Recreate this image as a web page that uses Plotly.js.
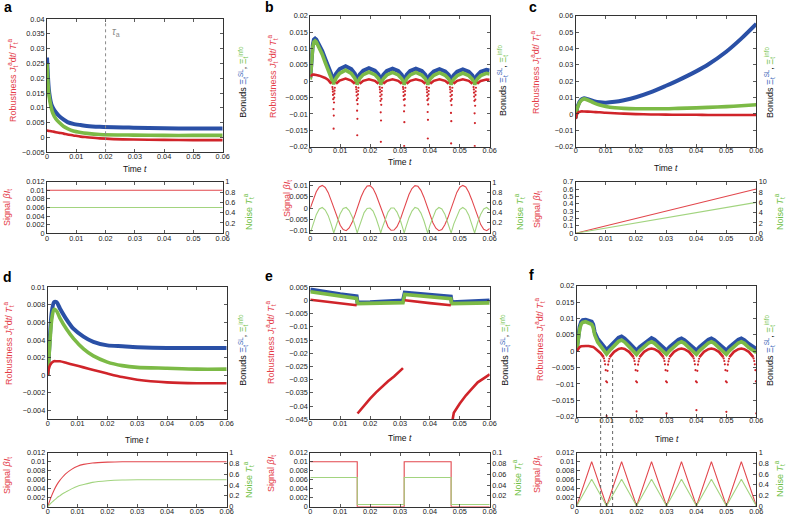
<!DOCTYPE html>
<html><head><meta charset="utf-8">
<script src="https://cdn.plot.ly/plotly-3.0.1.min.js"></script>
<style>html,body{margin:0;padding:0;background:#fff}#chart{width:786px;height:520px}</style>
</head><body><div id="chart"></div>
<script>
// ---------------- DATA ----------------
// Panel a
const tA = [0, 0.0003, 0.0006, 0.001, 0.0015, 0.002, 0.003, 0.004, 0.0057, 0.007, 0.009, 0.0115, 0.0136, 0.018, 0.0295, 0.04, 0.05, 0.06];
const blueA = [0.027, 0.021, 0.0165, 0.0135, 0.0112, 0.0101, 0.0085, 0.0074, 0.006, 0.0052, 0.0046, 0.0042, 0.0039, 0.0036, 0.0033, 0.0031, 0.003, 0.003];
const greenA = [0.025, 0.019, 0.015, 0.0122, 0.0098, 0.0082, 0.0063, 0.0052, 0.0037, 0.003, 0.0022, 0.0017, 0.0014, 0.001, 0.0008, 0.0007, 0.0007, 0.0007];
const redA = [0.0023, 0.0023, 0.0022, 0.0022, 0.0021, 0.002, 0.0018, 0.0016, 0.0013, 0.001, 0.0007, 0.0003, 0.0001, -0.0003, -0.0007, -0.0008, -0.0009, -0.0009];
const tauA = 0.02;
const tSigA = [0, 0.06];
const sigA = [0.01, 0.01];
const noiseA = [0.5, 0.5];

// Panel b
const tB = [0, 0.0004, 0.0008, 0.0012, 0.0016, 0.002, 0.003, 0.004, 0.005, 0.006, 0.007, 0.0078,
  0.0086, 0.0098, 0.0118, 0.0137, 0.0149, 0.0157,
  0.0165, 0.0177, 0.0196, 0.0216, 0.0228, 0.0236,
  0.0244, 0.0256, 0.0275, 0.0294, 0.0306, 0.0314,
  0.0322, 0.0334, 0.0353, 0.0373, 0.0385, 0.0393,
  0.0401, 0.0413, 0.0432, 0.0451, 0.0463, 0.0471,
  0.0479, 0.0491, 0.051, 0.053, 0.0542, 0.055,
  0.0558, 0.057, 0.0589, 0.06];
const blueB = [0.001, 0.0075, 0.011, 0.0127, 0.013, 0.0127, 0.0112, 0.0092, 0.0068, 0.0043, 0.002, 0.0004,
  0.0023, 0.0037, 0.0046, 0.0037, 0.0023, 0.0003,
  0.002, 0.0032, 0.004, 0.0032, 0.002, 0.0003,
  0.0019, 0.0031, 0.0038, 0.0031, 0.0019, 0.0003,
  0.0019, 0.0031, 0.0038, 0.0031, 0.0019, 0.0003,
  0.0019, 0.003, 0.0037, 0.003, 0.0019, 0.0003,
  0.0018, 0.0029, 0.0036, 0.0029, 0.0018, 0.0003,
  0.0018, 0.0029, 0.0035, 0.0033];
const greenB = [0.0005, 0.0068, 0.0103, 0.012, 0.0123, 0.012, 0.0103, 0.0082, 0.0057, 0.0032, 0.0008, -0.0009,
  0.0009, 0.0024, 0.0034, 0.0024, 0.0009, -0.001,
  0.0008, 0.002, 0.0028, 0.002, 0.0008, -0.001,
  0.0007, 0.0019, 0.0027, 0.0019, 0.0007, -0.001,
  0.0007, 0.0019, 0.0027, 0.0019, 0.0007, -0.001,
  0.0007, 0.0018, 0.0026, 0.0018, 0.0007, -0.001,
  0.0006, 0.0017, 0.0025, 0.0017, 0.0006, -0.001,
  0.0006, 0.0017, 0.0024, 0.0022];
const redB = [0.0015, 0.0018, 0.002, 0.002, 0.002, 0.0019, 0.0017, 0.0014, 0.001, 0.0004, -0.0008, null,
  -0.0008, 0.0002, 0.0008, 0.0002, -0.0008, null,
  -0.0008, 0.0001, 0.0006, 0.0001, -0.0008, null,
  -0.0008, 0.0001, 0.0006, 0.0001, -0.0008, null,
  -0.0008, 0.0001, 0.0006, 0.0001, -0.0008, null,
  -0.0008, 0.0001, 0.0006, 0.0001, -0.0008, null,
  -0.0008, 0.0001, 0.0006, 0.0001, -0.0008, null,
  -0.0008, 0.0001, 0.0005, 0.0004];
const dotTB = [0.0074, 0.0075, 0.00755, 0.0076, 0.00767, 0.00775, 0.0078, 0.00785, 0.00793, 0.008, 0.00805, 0.0081, 0.0082,
  0.0153, 0.0154, 0.01545, 0.0155, 0.01557, 0.01565, 0.0157, 0.01575, 0.01583, 0.0159, 0.01595, 0.016, 0.0161,
  0.0232, 0.0233, 0.02335, 0.0234, 0.02347, 0.02355, 0.0236, 0.02365, 0.02373, 0.0238, 0.02385, 0.0239, 0.024,
  0.031, 0.0311, 0.03115, 0.0312, 0.03127, 0.03135, 0.0314, 0.03145, 0.03153, 0.0316, 0.03165, 0.0317, 0.0318,
  0.0389, 0.039, 0.03905, 0.0391, 0.03917, 0.03925, 0.0393, 0.03935, 0.03943, 0.0395, 0.03955, 0.0396, 0.0397,
  0.0467, 0.0468, 0.04685, 0.0469, 0.04697, 0.04705, 0.0471, 0.04715, 0.04723, 0.0473, 0.04735, 0.0474, 0.0475,
  0.0546, 0.0547, 0.05475, 0.0548, 0.05487, 0.05495, 0.055, 0.05505, 0.05513, 0.0552, 0.05525, 0.0553, 0.0554];
const dotYB = [-0.0018, -0.0024, -0.0032, -0.0042, -0.0055, -0.0085, -0.0145, -0.0105, -0.0065, -0.005, -0.0038, -0.0029, -0.002,
  -0.0018, -0.0025, -0.0033, -0.0044, -0.0058, -0.009, -0.0165, -0.0115, -0.007, -0.0052, -0.004, -0.003, -0.002,
  -0.0018, -0.0025, -0.0034, -0.0046, -0.006, -0.0095, -0.0185, -0.012, -0.0072, -0.0054, -0.0041, -0.003, -0.002,
  -0.0018, -0.0024, -0.0033, -0.0045, -0.0057, -0.0092, -0.0198, -0.0125, -0.0074, -0.0055, -0.0041, -0.003, -0.002,
  -0.0018, -0.0025, -0.0034, -0.0045, -0.0058, -0.0094, -0.0175, -0.0118, -0.0071, -0.0053, -0.004, -0.003, -0.002,
  -0.0018, -0.0025, -0.0034, -0.0046, -0.006, -0.0097, -0.019, -0.0122, -0.0073, -0.0055, -0.0042, -0.003, -0.002,
  -0.0018, -0.0025, -0.0035, -0.0047, -0.006, -0.0098, -0.0198, -0.0128, -0.0075, -0.0056, -0.0042, -0.0031, -0.002];
const tSigB = [0, 0.001, 0.002, 0.003, 0.004, 0.005, 0.006, 0.007, 0.008, 0.009, 0.01,
  0.011, 0.012, 0.013, 0.014, 0.015, 0.016, 0.017, 0.018, 0.019, 0.02,
  0.021, 0.022, 0.023, 0.024, 0.025, 0.026, 0.027, 0.028, 0.029, 0.03,
  0.031, 0.032, 0.033, 0.034, 0.035, 0.036, 0.037, 0.038, 0.039, 0.04,
  0.041, 0.042, 0.043, 0.044, 0.045, 0.046, 0.047, 0.048, 0.049, 0.05,
  0.051, 0.052, 0.053, 0.054, 0.055, 0.056, 0.057, 0.058, 0.059, 0.06];
const sigB = [0, 0.0039, 0.0072, 0.0093, 0.01, 0.0091, 0.0068, 0.0033, -0.0006, -0.0044, -0.0076,
  -0.0095, -0.01, -0.0088, -0.0063, -0.0028, 0.0012, 0.005, 0.0079, 0.0097, 0.0099,
  0.0086, 0.0059, 0.0022, -0.0018, -0.0055, -0.0083, -0.0098, -0.0097, -0.0082, -0.0054,
  -0.0016, 0.0024, 0.006, 0.0086, 0.0099, 0.0096, 0.0078, 0.0048, 0.001, -0.003,
  -0.0065, -0.0089, -0.01, -0.0095, -0.0074, -0.0043, -0.0004, 0.0035, 0.0069, 0.0092,
  0.01, 0.0093, 0.007, 0.0037, -0.0002, -0.0041, -0.0073, -0.0094, -0.01, -0.009];
const tNoiseB = [0, 0.001, 0.002, 0.003, 0.004, 0.005, 0.006, 0.007, 0.00785, 0.008, 0.009, 0.01,
  0.011, 0.012, 0.013, 0.014, 0.015, 0.0157, 0.016, 0.017, 0.018, 0.019, 0.02,
  0.021, 0.022, 0.023, 0.02355, 0.024, 0.025, 0.026, 0.027, 0.028, 0.029, 0.03,
  0.031, 0.0314, 0.032, 0.033, 0.034, 0.035, 0.036, 0.037, 0.038, 0.039, 0.03925, 0.04,
  0.041, 0.042, 0.043, 0.044, 0.045, 0.046, 0.047, 0.0471, 0.048, 0.049, 0.05,
  0.051, 0.052, 0.053, 0.054, 0.05495, 0.055, 0.056, 0.057, 0.058, 0.059, 0.06];
const noiseB = [0, 0.19, 0.36, 0.47, 0.5, 0.45, 0.34, 0.17, 0, 0.03, 0.22, 0.38,
  0.48, 0.5, 0.44, 0.32, 0.14, 0, 0.06, 0.25, 0.4, 0.48, 0.49,
  0.43, 0.29, 0.11, 0, 0.09, 0.27, 0.41, 0.49, 0.49, 0.41, 0.27,
  0.08, 0, 0.12, 0.3, 0.43, 0.5, 0.48, 0.39, 0.24, 0.05, 0, 0.15,
  0.32, 0.45, 0.5, 0.47, 0.37, 0.21, 0.02, 0, 0.18, 0.34, 0.46,
  0.5, 0.46, 0.35, 0.18, 0, 0.01, 0.21, 0.37, 0.47, 0.5, 0.45];

// Panel c
const tC = [0, 0.0006, 0.0017, 0.0028, 0.004, 0.006, 0.008, 0.01, 0.013, 0.016, 0.02, 0.025, 0.03, 0.034, 0.04, 0.044, 0.05, 0.055, 0.06];
const blueC = [-0.0026, 0.0045, 0.0086, 0.0096, 0.009, 0.0078, 0.0071, 0.0069, 0.0074, 0.0084, 0.0102, 0.0133, 0.0172, 0.0205, 0.026, 0.0302, 0.038, 0.046, 0.055];
const greenC = [-0.002, 0.004, 0.008, 0.0092, 0.0085, 0.0068, 0.0055, 0.0046, 0.0038, 0.0034, 0.0032, 0.0032, 0.0032, 0.0034, 0.0037, 0.004, 0.0045, 0.005, 0.0056];
const redC = [-0.003, 0.0005, 0.0015, 0.0015, 0.0014, 0.0012, 0.001, 0.0007, 0.0004, 0.0002, -0.0001, -0.0003, -0.0004, -0.0005, -0.0005, -0.0006, -0.0006, -0.0006, -0.0006];
const tSigC = [0, 0.06];
const sigC = [0, 0.6];
const noiseC = [0, 6];

// Panel d
const tD = [0, 0.0006, 0.0013, 0.0021, 0.003, 0.0041, 0.0064, 0.0086, 0.012, 0.0153, 0.02, 0.025, 0.03, 0.04, 0.05, 0.06];
const blueD = [0, 0.0036, 0.007, 0.0083, 0.0083, 0.0076, 0.0063, 0.0053, 0.0044, 0.0038, 0.0034, 0.0033, 0.0032, 0.0031, 0.0031, 0.0031];
const greenD = [0, 0.003, 0.0062, 0.0075, 0.0073, 0.0065, 0.0052, 0.0042, 0.003, 0.0022, 0.0015, 0.0011, 0.0009, 0.0008, 0.0007, 0.0007];
const redD = [0, 0.001, 0.0014, 0.0016, 0.0016, 0.0016, 0.0014, 0.0012, 0.0009, 0.0006, 0.0002, -0.0002, -0.0005, -0.0008, -0.0009, -0.0009];
const tSigD = [0, 0.001, 0.002, 0.003, 0.004, 0.005, 0.006, 0.008, 0.01, 0.012, 0.015, 0.02, 0.025, 0.03, 0.06];
const sigD = [0, 0.0019, 0.0035, 0.0048, 0.0058, 0.0066, 0.0073, 0.0083, 0.009, 0.0094, 0.0097, 0.0099, 0.01, 0.01, 0.01];
const noiseD = [0, 0.06, 0.11, 0.16, 0.2, 0.24, 0.27, 0.33, 0.38, 0.41, 0.45, 0.48, 0.495, 0.5, 0.5];

// Panel e
const tBoundE = [0, 0.005, 0.01, 0.0155, 0.0158, 0.02, 0.025, 0.031, 0.0316, 0.035, 0.04, 0.047, 0.0473, 0.05, 0.055, 0.06];
const blueE = [0.0042, 0.0032, 0.0024, 0.0016, -0.0008, -0.0007, -0.0004, 0, 0.003, 0.0026, 0.002, 0.0015, -0.0007, -0.0006, -0.0003, 0];
const greenE = [0.0033, 0.0024, 0.0015, 0.0008, -0.0012, -0.0011, -0.001, -0.0008, 0.0023, 0.0019, 0.0014, 0.0007, -0.0012, -0.0011, -0.001, -0.0009];
const tRedE = [0, 0.005, 0.01, 0.0155, 0.0157, 0.0158, 0.018, 0.02, 0.022, 0.024, 0.026, 0.028, 0.0305, 0.031, 0.0313, 0.0316, 0.035, 0.04, 0.047, 0.0471, 0.0473, 0.048, 0.05, 0.052, 0.054, 0.056, 0.058, 0.06];
const redE = [0.0003, -0.0004, -0.001, -0.0018, null, -0.0428, -0.0398, -0.0372, -0.0348, -0.0326, -0.0306, -0.0288, -0.0262, -0.0256, null, 0.0001, -0.0004, -0.001, -0.0018, null, -0.047, -0.0425, -0.039, -0.036, -0.0335, -0.031, -0.0295, -0.028];
const tSigE = [0, 0.0157, 0.0157, 0.0314, 0.0314, 0.0471, 0.0471, 0.06];
const sigE = [0.01, 0.01, 0, 0, 0.01, 0.01, 0, 0];
const noiseE = [0.054, 0.054, 0.004, 0.004, 0.054, 0.054, 0.004, 0.004];

// Panel f
const tF = [0, 0.0005, 0.001, 0.0015, 0.002, 0.003, 0.004, 0.005, 0.0055, 0.006, 0.007, 0.008, 0.009, 0.01,
  0.011, 0.0125, 0.014, 0.015, 0.016, 0.0175, 0.019, 0.02,
  0.021, 0.0225, 0.024, 0.025, 0.026, 0.0275, 0.029, 0.03,
  0.031, 0.0325, 0.034, 0.035, 0.036, 0.0375, 0.039, 0.04,
  0.041, 0.0425, 0.044, 0.045, 0.046, 0.0475, 0.049, 0.05,
  0.051, 0.0525, 0.054, 0.055, 0.056, 0.0575, 0.059, 0.06];
const blueF = [0.0005, 0.0045, 0.0075, 0.009, 0.0095, 0.0096, 0.0094, 0.009, 0.0082, 0.0058, 0.0038, 0.0027, 0.0016, 0.0004,
  0.0013, 0.0027, 0.0041, 0.0045, 0.0039, 0.0025, 0.0011, 0.0002,
  0.0012, 0.0024, 0.0036, 0.004, 0.0035, 0.0022, 0.001, 0.0002,
  0.0012, 0.0024, 0.0035, 0.0039, 0.0034, 0.0022, 0.001, 0.0002,
  0.0012, 0.0024, 0.0035, 0.0039, 0.0034, 0.0022, 0.001, 0.0002,
  0.0012, 0.0024, 0.0035, 0.0039, 0.0034, 0.0022, 0.0012, 0.0007];
const greenF = [0, 0.004, 0.0068, 0.0083, 0.0088, 0.009, 0.0087, 0.0082, 0.0073, 0.005, 0.0028, 0.0016, 0.0004, -0.0009,
  0.0002, 0.0016, 0.003, 0.0034, 0.0028, 0.0014, 0, -0.001,
  0.0001, 0.0013, 0.0025, 0.0029, 0.0024, 0.0011, -0.0001, -0.001,
  0.0001, 0.0013, 0.0025, 0.0029, 0.0024, 0.0011, -0.0001, -0.001,
  0.0001, 0.0013, 0.0025, 0.0029, 0.0024, 0.0011, -0.0001, -0.001,
  0.0001, 0.0013, 0.0025, 0.0029, 0.0024, 0.0011, 0, -0.0004];
const redF = [0, 0.0009, 0.0013, 0.0015, 0.0016, 0.0016, 0.0016, 0.0015, 0.0013, 0.001, 0.0003, -0.0006, -0.0018, null,
  -0.0018, -0.0002, 0.0007, 0.0009, 0.0007, -0.0002, -0.0018, null,
  -0.0018, -0.0002, 0.0006, 0.0008, 0.0006, -0.0002, -0.0018, null,
  -0.0018, -0.0002, 0.0006, 0.0008, 0.0006, -0.0002, -0.0018, null,
  -0.0018, -0.0002, 0.0006, 0.0008, 0.0006, -0.0002, -0.0018, null,
  -0.0018, -0.0002, 0.0006, 0.0008, 0.0006, -0.0002, -0.0018, null];
const dotTF = [0.0091, 0.0093, 0.0095, 0.0097, 0.00985, 0.01, 0.01015, 0.0103, 0.0105, 0.0107, 0.0109,
  0.0191, 0.0193, 0.0195, 0.0197, 0.01985, 0.02, 0.02015, 0.0203, 0.0205, 0.0207, 0.0209,
  0.0291, 0.0293, 0.0295, 0.0297, 0.02985, 0.03, 0.03015, 0.0303, 0.0305, 0.0307, 0.0309,
  0.0391, 0.0393, 0.0395, 0.0397, 0.03985, 0.04, 0.04015, 0.0403, 0.0405, 0.0407, 0.0409,
  0.0491, 0.0493, 0.0495, 0.0497, 0.04985, 0.05, 0.05015, 0.0503, 0.0505, 0.0507, 0.0509,
  0.0591, 0.0593, 0.0595, 0.0597, 0.05985, 0.06];
const dotYF = [-0.0022, -0.003, -0.004, -0.0058, -0.0092, -0.0198, -0.0095, -0.006, -0.0041, -0.0031, -0.0023,
  -0.0022, -0.003, -0.004, -0.0058, -0.0092, -0.0184, -0.0095, -0.006, -0.0041, -0.0031, -0.0023,
  -0.0022, -0.003, -0.004, -0.0058, -0.0092, -0.019, -0.0095, -0.006, -0.0041, -0.0031, -0.0023,
  -0.0022, -0.003, -0.004, -0.0058, -0.0092, -0.018, -0.0095, -0.006, -0.0041, -0.0031, -0.0023,
  -0.0022, -0.003, -0.004, -0.0058, -0.0092, -0.0185, -0.0095, -0.006, -0.0041, -0.0031, -0.0023,
  -0.0022, -0.003, -0.004, -0.0058, -0.0092, -0.019];
const tSigF = [0, 0.005, 0.01, 0.015, 0.02, 0.025, 0.03, 0.035, 0.04, 0.045, 0.05, 0.055, 0.06];
const sigF = [0, 0.01, 0, 0.01, 0, 0.01, 0, 0.01, 0, 0.01, 0, 0.01, 0];
const noiseF = [0, 0.5, 0, 0.5, 0, 0.5, 0, 0.5, 0, 0.5, 0, 0.5, 0];
const markTimesF = [0.008, 0.012];

// Axis settings
const panelLetters = ['a', 'b', 'c', 'd', 'e', 'f'];
const xRange = [0, 0.06];
const mainRanges = [[-0.005, 0.04], [-0.02, 0.02], [-0.02, 0.06], [-0.005, 0.01], [-0.045, 0.005], [-0.02, 0.02]];
const mainDticks = [0.005, 0.005, 0.01, 0.002, 0.005, 0.005];
const sigRanges = [[0, 0.012], [-0.011, 0.0115], [0, 0.7], [0, 0.012], [0, 0.012], [0, 0.012]];
const sigDticks = [0.002, 0.005, 0.1, 0.002, 0.002, 0.002];
const noiseRanges = [[0, 1], [0, 1], [0, 10], [0, 1], [0, 0.1], [0, 1]];
const noiseDticks = [0.2, 0.2, 2, 0.2, 0.02, 0.2];
const smoothPanels = [true, false, true, true, false, false];

// ---------------- LAYOUT GEOMETRY (px) ----------------
const W = 786, H = 520;
const G = [
  {x0: 47, x1: 222.7, mt: 19, mb: 152.3, bt: 181.7, bb: 233.3, let: [8, 7], rob: [12, 80], bon: [242.7, 82], time: 169, sig: [7, 208], noi: [248, 212]},
  {x0: 310.3, x1: 489.7, mt: 15.7, mb: 146.7, bt: 182, bb: 233, let: [269, 7], rob: [272, 76], bon: [502, 80], time: 162, sig: [287, 199], noi: [519, 212]},
  {x0: 575.7, x1: 756.3, mt: 15.7, mb: 146.7, bt: 181.7, bb: 233.3, let: [533, 7], rob: [536, 72], bon: [769, 82], time: 168, sig: [537, 210], noi: [779, 212]},
  {x0: 47.7, x1: 226.7, mt: 287.3, mb: 419.3, bt: 452.7, bb: 506.7, let: [7, 277], rob: [8, 343], bon: [242.7, 350], time: 440, sig: [7, 476], noi: [248, 480]},
  {x0: 310.3, x1: 489.7, mt: 287.3, mb: 419.3, bt: 452.7, bb: 506.7, let: [269, 276], rob: [270, 342], bon: [504.7, 350], time: 438, sig: [271, 474], noi: [517, 478]},
  {x0: 576.7, x1: 756.3, mt: 285.7, mb: 416.7, bt: 452.7, bb: 506, let: [531, 275], rob: [539, 339], bon: [769, 350], time: 439, sig: [537, 475], noi: [779, 479]}
];
const px = v => v / W, py = v => 1 - v / H;

const BLUE = '#2a50a6', GREEN = '#7cba46', RED = '#d0242a';
const RED_T = '#e43c47', GREEN_T = '#6fbf45', BLUE_T = '#3a66b8';
const THIN_R = '#e2474d', THIN_G = '#a2d47f';
const FONT = 'Liberation Sans, Arial, Helvetica, sans-serif';

const layout = {
  width: W, height: H, margin: {l: 0, r: 0, t: 0, b: 0},
  paper_bgcolor: '#fff', plot_bgcolor: '#fff', showlegend: false,
  font: {family: FONT, color: '#222'},
  annotations: [], shapes: []
};
const traces = [];
const axBase = {showline: true, linecolor: '#333', linewidth: 1, ticks: 'inside', ticklen: 3, tickwidth: 0.8,
  tickcolor: '#333', showgrid: false, zeroline: false, fixedrange: true, tickfont: {size: 7.3, color: '#222', family: FONT}};
const pad = r => [r[0] - (r[1] - r[0]) * 1e-6, r[1] + (r[1] - r[0]) * 1e-6];
const nm = (p, n) => n === 1 ? p : p + n;

function line(x, y, xa, ya, color, width, smooth) {
  const ln = {color, width};
  if (smooth) { ln.shape = 'spline'; ln.smoothing = 0.7; }
  return {type: 'scatter', mode: 'lines', x, y, xaxis: xa, yaxis: ya, line: ln, connectgaps: false, hoverinfo: 'skip'};
}
function dots(x, y, xa, ya, color) {
  return {type: 'scatter', mode: 'markers', x, y, xaxis: xa, yaxis: ya, marker: {color, size: 2.2}, hoverinfo: 'skip'};
}

const mainSeries = [
  {t: [tA, tA, tA], b: blueA, g: greenA, r: redA},
  {t: [tB, tB, tB], b: blueB, g: greenB, r: redB, dt: dotTB, dy: dotYB},
  {t: [tC, tC, tC], b: blueC, g: greenC, r: redC},
  {t: [tD, tD, tD], b: blueD, g: greenD, r: redD},
  {t: [tBoundE, tBoundE, tRedE], b: blueE, g: greenE, r: redE},
  {t: [tF, tF, tF], b: blueF, g: greenF, r: redF, dt: dotTF, dy: dotYF}
];
const botSeries = [
  {ts: tSigA, s: sigA, tn: tSigA, n: noiseA},
  {ts: tSigB, s: sigB, tn: tNoiseB, n: noiseB},
  {ts: tSigC, s: sigC, tn: tSigC, n: noiseC},
  {ts: tSigD, s: sigD, tn: tSigD, n: noiseD},
  {ts: tSigE, s: sigE, tn: tSigE, n: noiseE},
  {ts: tSigF, s: sigF, tn: tSigF, n: noiseF}
];

for (let p = 0; p < 6; p++) {
  const g = G[p];
  const mx = 2 * p + 1, bx = 2 * p + 2, my = 2 * p + 1, by = 2 * p + 2, ry = 13 + p;
  const xd = [px(g.x0), px(g.x1)];
  layout[nm('xaxis', mx)] = Object.assign({}, axBase, {domain: xd, range: xRange, tick0: 0, dtick: 0.01, anchor: nm('y', my), mirror: 'ticks', ticklabelstandoff: -3});
  layout[nm('yaxis', my)] = Object.assign({}, axBase, {domain: [py(g.mb), py(g.mt)], range: pad(mainRanges[p]), tick0: 0, dtick: mainDticks[p], anchor: nm('x', mx), mirror: 'ticks'});
  layout[nm('xaxis', bx)] = Object.assign({}, axBase, {domain: xd, range: xRange, tick0: 0, dtick: 0.01, anchor: nm('y', by), mirror: 'ticks', ticklabelstandoff: -2});
  layout[nm('yaxis', by)] = Object.assign({}, axBase, {domain: [py(g.bb), py(g.bt)], range: pad(sigRanges[p]), tick0: 0, dtick: sigDticks[p], anchor: nm('x', bx), mirror: false});
  layout[nm('yaxis', ry)] = Object.assign({}, axBase, {overlaying: nm('y', by), side: 'right', range: pad(noiseRanges[p]), tick0: 0, dtick: noiseDticks[p], anchor: nm('x', bx)});

  const XA = nm('x', mx), YA = nm('y', my), XB = nm('x', bx), YB = nm('y', by), YR = nm('y', ry);
  const s = mainSeries[p];
  const sm = smoothPanels[p];
  traces.push(line(s.t[0], s.b, XA, YA, BLUE, 4, sm));
  traces.push(line(s.t[1], s.g, XA, YA, GREEN, 3.6, sm));
  traces.push(line(s.t[2], s.r, XA, YA, RED, 2.6, sm));
  if (s.dt) traces.push(dots(s.dt, s.dy, XA, YA, RED));
  const bs = botSeries[p];
  traces.push(line(bs.ts, bs.s, XB, YB, THIN_R, 1.1, p === 3));
  traces.push(line(bs.tn, bs.n, XB, YR, THIN_G, 1.1, p === 3));

  const A = layout.annotations;
  A.push({xref: 'paper', yref: 'paper', x: px(g.let[0]), y: py(g.let[1]), xanchor: 'center', yanchor: 'middle', showarrow: false,
    text: '<b>' + panelLetters[p] + '</b>', font: {size: 14, color: '#000', family: FONT}});
  A.push({xref: 'paper', yref: 'paper', x: px(g.rob[0]), y: py(g.rob[1]), xanchor: 'center', yanchor: 'middle', showarrow: false, textangle: -90,
    text: 'Robustness <i>J</i><sub>t</sub><sup>a</sup>d<i>t</i>/ <i>T</i><sub>t</sub><sup>a</sup>', font: {size: 9, color: RED_T, family: FONT}});
  A.push({xref: 'paper', yref: 'paper', x: px(g.bon[0]), y: py(g.bon[1]), xanchor: 'center', yanchor: 'middle', showarrow: false, textangle: -90,
    text: 'Bonuds <span style="color:' + BLUE_T + '">Ξ<sub>t</sub><sup>SL</sup></span>, <span style="color:' + GREEN_T + '">Ξ<sub>t</sub><sup>info</sup></span>',
    font: {size: 9, color: '#111', family: FONT}});
  A.push({xref: 'paper', yref: 'paper', x: px((g.x0 + g.x1) / 2), y: py(g.time), xanchor: 'center', yanchor: 'middle', showarrow: false,
    text: 'Time <i>t</i>', font: {size: 8.5, color: '#111', family: FONT}});
  A.push({xref: 'paper', yref: 'paper', x: px(g.sig[0]), y: py(g.sig[1]), xanchor: 'center', yanchor: 'middle', showarrow: false, textangle: -90,
    text: 'Signal <i>βI</i><sub>t</sub>', font: {size: 9, color: RED_T, family: FONT}});
  A.push({xref: 'paper', yref: 'paper', x: px(g.noi[0]), y: py(g.noi[1]), xanchor: 'center', yanchor: 'middle', showarrow: false, textangle: -90,
    text: 'Noise <i>T</i><sub>t</sub><sup>a</sup>', font: {size: 9, color: GREEN_T, family: FONT}});
}

// panel a: tau line and label
layout.shapes.push({type: 'line', xref: 'x', yref: 'y domain', x0: tauA, x1: tauA, y0: 0, y1: 1, line: {color: '#8a8a8a', width: 1, dash: 'dot'}});
layout.annotations.push({xref: 'x', yref: 'y', x: 0.0235, y: 0.0355, showarrow: false, xanchor: 'center', yanchor: 'middle',
  text: '<i>τ</i><sub>a</sub>', font: {size: 10, color: '#8a8a8a', family: FONT}});

// panel f: two dotted vertical markers spanning main and bottom plots
{
  const g = G[5];
  const r = mainRanges[5];
  const topVal = -0.0025;
  const yTop = py(g.mb) + (topVal - r[0]) / (r[1] - r[0]) * (py(g.mt) - py(g.mb));
  markTimesF.forEach(t => layout.shapes.push({type: 'line', xref: 'x11', yref: 'paper', x0: t, x1: t, y0: py(g.bb), y1: yTop,
    line: {color: '#666', width: 1, dash: 'dot'}}));
}

Plotly.newPlot('chart', traces, layout, {staticPlot: true, displayModeBar: false});
</script>
</body></html>
